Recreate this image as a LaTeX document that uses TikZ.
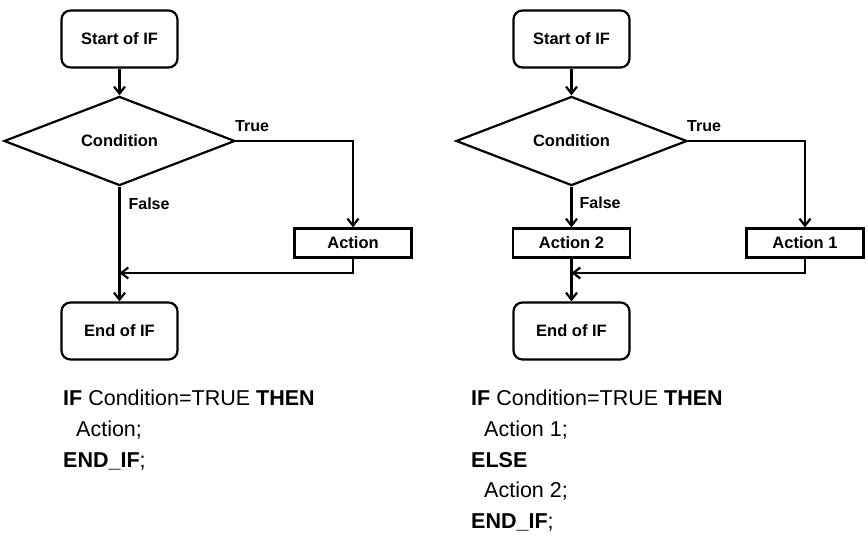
\documentclass[tikz,border=0pt]{standalone}
\usepackage{fontspec}
\setmainfont{Liberation Sans}
\usetikzlibrary{arrows.meta,positioning,shapes.geometric}
\tikzset{
  terminal/.style={
    rounded corners=9pt,
    draw,
    line width=2.2pt,
    minimum width=116pt,
    minimum height=57pt,
    align=center,
    font=\fontsize{16.5}{20}\selectfont\bfseries
  },
  decision/.style={
    diamond,
    draw,
    line width=2.2pt,
    minimum width=231pt,
    minimum height=85pt,
    inner sep=0pt,
    font=\fontsize{16.5}{20}\selectfont\bfseries
  },
  actionbox/.style={
    draw,
    line width=2.2pt,
    minimum width=117pt,
    minimum height=29pt,
    font=\fontsize{16.5}{20}\selectfont\bfseries
  },
  arrow/.style={
    -{Straight Barb[length=7pt,width=11pt]},
    line width=2.2pt
  },
  lbl/.style={
    inner sep=0pt,
    font=\fontsize{16}{19}\selectfont\bfseries
  },
  codetext/.style={
    inner sep=0pt,
    align=left,
    font=\fontsize{21.5}{30.7}\selectfont
  }
}

\begin{document}
\begin{tikzpicture}[x=1pt,y=1pt]
\useasboundingbox (0,0) rectangle (868,-545);

% IF without ELSE
\node[terminal] (start1) at (119.5,-39) {Start of IF};
\node[decision] (cond1) at (119.5,-141) {Condition};
\node[terminal] (end1) at (119.5,-331) {End of IF};
\node[actionbox] (act1) at (353,-243) {Action};
\coordinate (merge1) at (119.5,-273);

\draw[arrow] (start1) -- (cond1);
\draw[arrow] (cond1.east) node[lbl, anchor=south west, xshift=-2pt, yshift=8pt] {True} -| (act1.north);
\draw[arrow] (cond1.south) node[lbl, anchor=north west, xshift=8pt, yshift=-10pt] {False} -- (end1.north);
\draw[arrow] (act1.south) |- (merge1);

% IF with ELSE
\node[terminal] (start2) at (571.5,-39) {Start of IF};
\node[decision] (cond2) at (571.5,-141) {Condition};
\node[actionbox] (act2) at (571.5,-243) {Action 2};
\node[terminal] (end2) at (571.5,-331) {End of IF};
\node[actionbox] (act1b) at (805,-243) {Action 1};
\coordinate (merge2) at (571.5,-273);

\foreach \a/\b in {start2/cond2,cond2/act2,act2/end2} {
  \draw[arrow] (\a) -- (\b);
}
\node[lbl, anchor=north west] (false2) at ([xshift=8pt, yshift=-10pt]cond2.south) {False};
\draw[arrow] (cond2.east) node[lbl, anchor=south west, xshift=-2pt, yshift=8pt] {True} -| (act1b.north);
\draw[arrow] (act1b.south) |- (merge2);

% structured text
\node[codetext, anchor=north west] (code1) at (63,-390)
  {\textbf{IF} Condition=TRUE \textbf{THEN}\\
   \hspace*{13pt}Action;\\
   \textbf{END\_IF};};
\node[codetext, anchor=north west] (code2) at (471,-390)
  {\textbf{IF} Condition=TRUE \textbf{THEN}\\
   \hspace*{13pt}Action 1;\\
   \textbf{ELSE}\\
   \hspace*{13pt}Action 2;\\
   \textbf{END\_IF};};
\end{tikzpicture}
\end{document}
